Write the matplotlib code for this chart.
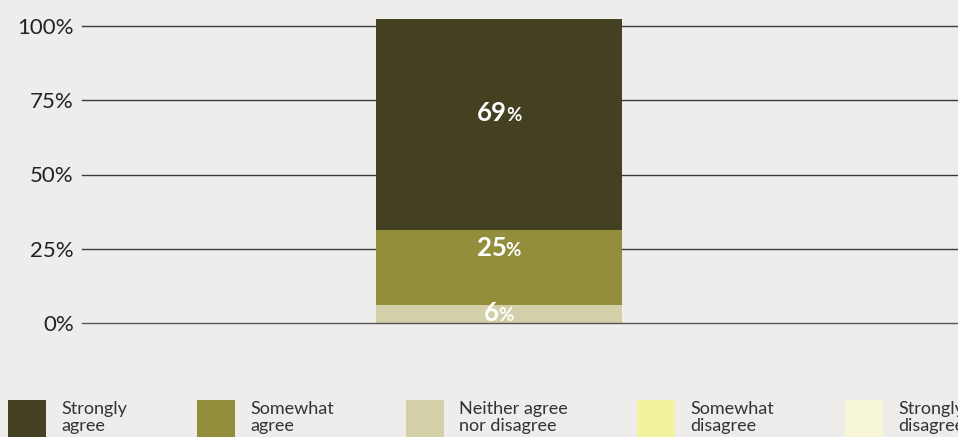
import matplotlib
matplotlib.use("Agg")
import matplotlib.pyplot as plt
from matplotlib.patches import Rectangle

# ---------- data -----------------------------------------------------------
categories = ["Neither agree\nnor disagree", "Somewhat\nagree", "Strongly\nagree"]
segment_values = [6.1, 25.3, 71.0]          # heights as drawn in the picture
segment_labels = ["6", "25", "69"]          # printed labels
segment_colors = ["#d3cfa9", "#938e3b", "#434121"]

legend_labels = ["Strongly\nagree", "Somewhat\nagree", "Neither agree\nnor disagree",
                 "Somewhat\ndisagree", "Strongly\ndisagree"]
legend_colors = ["#434121", "#938e3b", "#d3cfa9", "#f3f39f", "#f7f6d8"]
legend_x_px = [8, 197, 406, 637, 845]

yticks = [0, 25, 50, 75, 100]
ytick_labels = ["0%", "25%", "50%", "75%", "100%"]

BG = "#eeedeb"
W, H = 958, 437
BAR_X, BAR_W = 0.476, 0.281

plt.rcParams["font.family"] = ["Lato", "DejaVu Sans"]

fig = plt.figure(figsize=(W / 100, H / 100), dpi=100, facecolor=BG)
ax = fig.add_axes([82 / W, (H - 323) / H, (W - 82) / W, 297 / H])
ax.set_facecolor(BG)
ax.set_xlim(0, 1)
ax.set_ylim(0, 100)

for y in yticks:
    ax.axhline(y, color="#3a3a3a" if y else "#555555", lw=1.0,
               zorder=1 if y else 4, clip_on=False)

bottom = 0.0
for val, col in zip(segment_values, segment_colors):
    ax.bar(BAR_X, val, width=BAR_W, bottom=bottom, color=col, zorder=2,
           clip_on=False, linewidth=0)
    bottom += val

# labels inside the segments: number bold, % smaller, pair centred on bar
label_y = [0.6, 22.4, 68.1]   # baselines
renderer = fig.canvas.get_renderer()
for lab, y in zip(segment_labels, label_y):
    t = ax.text(BAR_X, y, lab, color="white", fontsize=18.5, fontweight="bold",
                ha="right", va="baseline", zorder=5)
    p = ax.text(BAR_X, y, "%", color="white", fontsize=13.5, fontweight="bold",
                ha="left", va="baseline", zorder=5)
    w_num = t.get_window_extent(renderer).width
    w_pct = p.get_window_extent(renderer).width
    x0 = ax.transData.transform((BAR_X, y))[0] + (w_num - w_pct) / 2
    t.set_x(ax.transData.inverted().transform((x0 + 0.5, 0))[0])
    p.set_x(ax.transData.inverted().transform((x0 - 0.5, 0))[0])

ax.set_yticks(yticks)
ax.set_yticklabels(ytick_labels, fontsize=16, color="#222222")
ax.tick_params(axis="y", length=0, pad=6)
ax.set_xticks([])
for s in ax.spines.values():
    s.set_visible(False)

# ---------- legend ---------------------------------------------------------
for x, lab, col in zip(legend_x_px, legend_labels, legend_colors):
    fig.add_artist(Rectangle((x / W, 0), 38 / W, 37 / H, transform=fig.transFigure,
                             facecolor=col, edgecolor="none"))
    fig.text((x + 53) / W, (H - 401) / H, lab, fontsize=13, color="#333333",
             va="top", ha="left", linespacing=1.08)

fig.savefig("out.png", dpi=100, facecolor=BG)
